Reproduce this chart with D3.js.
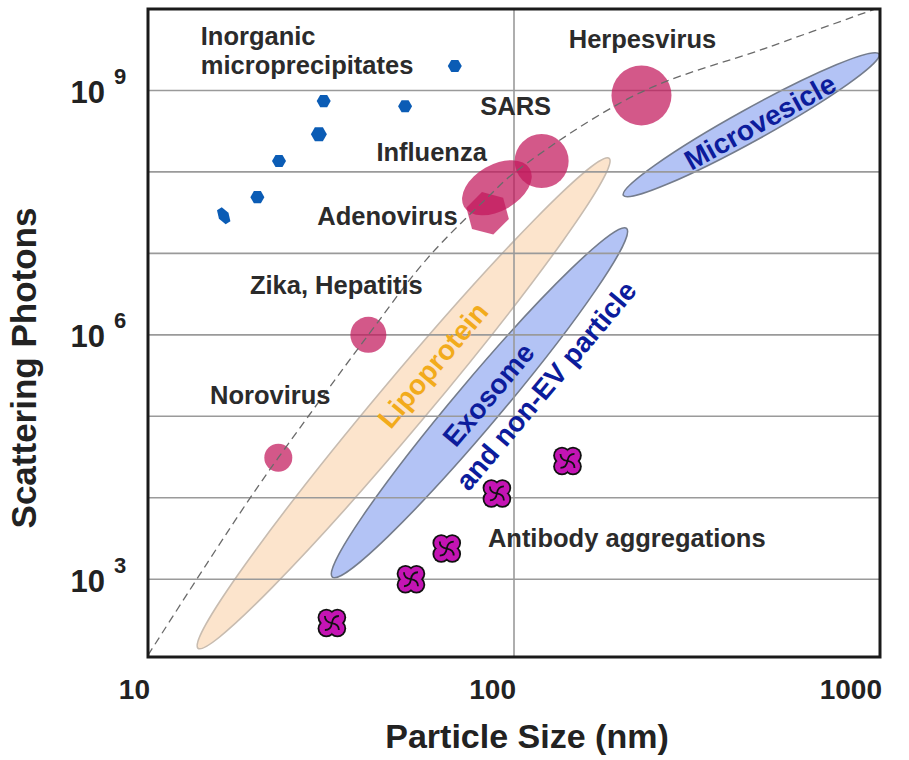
<!DOCTYPE html>
<html>
<head>
<meta charset="UTF-8">
<script src="https://d3js.org/d3.v7.min.js"></script>
<style>
    body { margin: 0; background: #fff; }
    svg text { font-family: "Liberation Sans", Arial, Helvetica, sans-serif; font-weight: bold; }
    .grid line { stroke: #9a9a9a; stroke-width: 1.6; }
    .lbl { font-size: 25.5px; fill: #2b2b2b; }
    .tick-x { font-size: 28px; fill: #222; }
    .tick-y { font-size: 31px; fill: #222; }
    .tick-sup { font-size: 22px; fill: #222; }
    .axis-title { font-size: 34px; fill: #222; }
</style>
</head>
<body>
<svg id="chart" width="909" height="760"></svg>
<script>
// ---- values ----
const xTicks = [10, 100, 1000];
const yTickExp = [3, 6, 9];
const gridExp = [3, 4, 5, 6, 7, 8, 9];
const xGrid = [100];

// dashed reference curve
const curveSize    = [10, 14.5, 19, 22.7, 40, 58, 84, 102, 219, 496, 1000];
const curvePhotons = [117, 1570, 9900, 3.1e4, 1.0e6, 8.7e6, 4.7e7, 1.04e8, 9.2e8, 3.4e9, 1.05e10];

// inorganic microprecipitates
const inorgSize    = [16.1, 19.9, 22.8, 29.3, 30.2, 50.4, 68.9];
const inorgPhotons = [2.9e7, 4.9e7, 1.36e8, 2.9e8, 7.4e8, 6.4e8, 2.0e9];

// viruses
const virusNames   = ["Norovirus", "Zika, Hepatitis", "Adenovirus", "Influenza", "SARS", "Herpesvirus"];
const virusSize    = [22.7, 40, 84.7, 89.8, 119, 223];
const virusPhotons = [3.1e4, 1.0e6, 3.1e7, 6.4e7, 1.36e8, 8.7e8];

// antibody aggregations
const abSize    = [31.8, 52.3, 65.5, 89.8, 140];
const abPhotons = [290, 1000, 2380, 1.13e4, 2.83e4];

// particle populations (low end -> high end)
const popNames       = ["Lipoprotein", "Exosome", "Microvesicle"];
const popSizeLow     = [13.7, 31.9, 199];
const popPhotonsLow  = [142, 1060, 5.15e7];
const popSizeHigh    = [182, 203, 995];
const popPhotonsHigh = [1.47e8, 2.03e7, 2.8e9];

// ---- layout ----
let margin = {top: 9, left: 148},
    width = 732,
    height = 648;

let svg = d3.select("#chart");
let chart = svg.append("g")
    .attr("transform", "translate(" + margin.left + "," + margin.top + ")");

let xScale = d3.scaleLog().domain([10, 1000]).range([0, width]);
let yScale = d3.scaleLog().domain([111, 1e10]).range([height, 0]);

chart.append("clipPath").attr("id", "plotclip")
    .append("rect").attr("width", width).attr("height", height);

// population ellipses
const popStyle = {
    "Lipoprotein":  {ry: 25, fill: "#fce4cc", stroke: "#c8bcb0", text: "#f2ab1c"},
    "Exosome":      {ry: 23, fill: "#b3c3f5", stroke: "#747c8c", text: "#0c1c9c"},
    "Microvesicle": {ry: 16, fill: "#b3c3f5", stroke: "#747c8c", text: "#0c1c9c"}
};
const popLabel = {
    "Lipoprotein":  [["Lipoprotein", 48, -2]],
    "Exosome":      [["Exosome", 12, 2], ["and non-EV particle", 56, 40]],
    "Microvesicle": [["Microvesicle", 9, 2]]
};

let pops = popNames.map((n, i) => {
    let x1 = xScale(popSizeLow[i]), y1 = yScale(popPhotonsLow[i]);
    let x2 = xScale(popSizeHigh[i]), y2 = yScale(popPhotonsHigh[i]);
    return {
        name: n,
        cx: (x1 + x2) / 2, cy: (y1 + y2) / 2,
        rx: Math.hypot(x2 - x1, y2 - y1) / 2,
        angle: Math.atan2(y2 - y1, x2 - x1) * 180 / Math.PI
    };
});

let popG = chart.append("g").attr("clip-path", "url(#plotclip)");
popG.selectAll("ellipse")
    .data(pops)
    .join("ellipse")
    .attr("cx", d => d.cx).attr("cy", d => d.cy)
    .attr("rx", d => d.rx).attr("ry", d => popStyle[d.name].ry)
    .attr("transform", d => "rotate(" + d.angle + "," + d.cx + "," + d.cy + ")")
    .attr("fill", d => popStyle[d.name].fill)
    .attr("stroke", d => popStyle[d.name].stroke)
    .attr("stroke-width", 1.6);

// grid
let grid = chart.append("g").attr("class", "grid");
grid.selectAll(".gy")
    .data(gridExp)
    .join("line").attr("class", "gy")
    .attr("x1", 0).attr("x2", width)
    .attr("y1", d => yScale(Math.pow(10, d))).attr("y2", d => yScale(Math.pow(10, d)));
grid.selectAll(".gx")
    .data(xGrid)
    .join("line").attr("class", "gx")
    .attr("y1", 0).attr("y2", height)
    .attr("x1", d => xScale(d)).attr("x2", d => xScale(d));

// population labels
pops.forEach(p => {
    let g = chart.append("g")
        .attr("transform", "translate(" + p.cx + "," + p.cy + ") rotate(" + p.angle + ")");
    popLabel[p.name].forEach(l => {
        g.append("text")
            .attr("x", l[1]).attr("y", l[2])
            .attr("text-anchor", "middle")
            .attr("dominant-baseline", "central")
            .style("font-size", "28px")
            .attr("fill", popStyle[p.name].text)
            .text(l[0]);
    });
});

// viruses
const virusShape = {
    "Norovirus":       {type: "circle", r: 14},
    "Zika, Hepatitis": {type: "circle", r: 18},
    "Adenovirus":      {type: "hex", r: 22, rot: 15},
    "Influenza":       {type: "ellipse", rx: 38, ry: 23, rot: -30},
    "SARS":            {type: "circle", r: 27},
    "Herpesvirus":     {type: "circle", r: 30}
};
const virusLabel = {
    "Norovirus":       {anchor: "middle", dx: -8,  dy: -54},
    "Zika, Hepatitis": {anchor: "middle", dx: -32, dy: -41},
    "Adenovirus":      {anchor: "end",    dx: -30, dy: 12},
    "Influenza":       {anchor: "end",    dx: -10, dy: -27},
    "SARS":            {anchor: "middle", dx: -26, dy: -46},
    "Herpesvirus":     {anchor: "middle", dx: 1,   dy: -47}
};

function hexPath(r, rot) {
    let pts = d3.range(6).map(k => {
        let a = (k * 60 + (rot || 0)) * Math.PI / 180;
        return [r * Math.cos(a), r * Math.sin(a)];
    });
    return "M" + pts.join("L") + "Z";
}

let virusG = chart.append("g");
virusNames.forEach((n, i) => {
    let s = virusShape[n];
    let g = virusG.append("g")
        .attr("transform", "translate(" + xScale(virusSize[i]) + "," + yScale(virusPhotons[i]) + ")")
        .attr("fill", "#c2185b")
        .attr("fill-opacity", 0.72);
    if (s.type == "circle") {
        g.append("circle").attr("r", s.r);
    } else if (s.type == "hex") {
        g.append("path").attr("d", hexPath(s.r, s.rot));
    } else {
        g.append("ellipse").attr("rx", s.rx).attr("ry", s.ry)
            .attr("transform", "rotate(" + s.rot + ")");
    }
});

// dashed curve
let line = d3.line()
    .x((d, i) => xScale(curveSize[i]))
    .y((d, i) => yScale(curvePhotons[i]))
    .curve(d3.curveCatmullRom);
chart.append("path")
    .attr("clip-path", "url(#plotclip)")
    .attr("d", line(curveSize))
    .attr("fill", "none")
    .attr("stroke", "#6a6a6a")
    .attr("stroke-width", 1.3)
    .attr("stroke-dasharray", "8,5");

virusNames.forEach((n, i) => {
    let l = virusLabel[n];
    chart.append("text")
        .attr("class", "lbl")
        .attr("x", xScale(virusSize[i]) + l.dx)
        .attr("y", yScale(virusPhotons[i]) + l.dy)
        .attr("text-anchor", l.anchor)
        .text(n);
});

// inorganic microprecipitates
chart.append("g").selectAll("path")
    .data(inorgSize)
    .join("path")
    .attr("d", (d, i) => hexPath(i == 3 ? 8 : 7, 0))
    .attr("transform", (d, i) => "translate(" + xScale(d) + "," + yScale(inorgPhotons[i]) + ")" +
        (i == 0 ? " rotate(-32) scale(0.8,1.35)" : ""))
    .attr("fill", "#0b5cb5");

let last = inorgSize.length - 1;
let inorgX = xScale(inorgSize[last]), inorgY = yScale(inorgPhotons[last]);
chart.append("text").attr("class", "lbl")
    .attr("x", inorgX - 254).attr("y", inorgY - 21)
    .text("Inorganic");
chart.append("text").attr("class", "lbl")
    .attr("x", inorgX - 254).attr("y", inorgY + 8)
    .text("microprecipitates");

// antibody aggregations
const lobes = [[-5.5, -5.5], [5.5, -5.5], [5.5, 5.5], [-5.5, 5.5]];
let abG = chart.append("g").selectAll("g")
    .data(abSize)
    .join("g")
    .attr("transform", (d, i) => "translate(" + xScale(d) + "," + yScale(abPhotons[i]) + ")");
abG.selectAll(".ol").data(lobes).join("circle").attr("class", "ol")
    .attr("cx", d => d[0]).attr("cy", d => d[1]).attr("r", 8.8).attr("fill", "#111");
abG.selectAll(".fl").data(lobes).join("circle").attr("class", "fl")
    .attr("cx", d => d[0]).attr("cy", d => d[1]).attr("r", 7).attr("fill", "#c414b4");
abG.selectAll(".sw").data(d3.range(4)).join("path").attr("class", "sw")
    .attr("d", "M0,0 Q1,-7 7,-7")
    .attr("transform", d => "rotate(" + (d * 90) + ")")
    .attr("fill", "none").attr("stroke", "#111").attr("stroke-width", 1.8);

let abX = xScale(abSize[3]), abY = yScale(abPhotons[3]);
chart.append("text").attr("class", "lbl")
    .attr("x", abX - 9).attr("y", abY + 54)
    .text("Antibody aggregations");

// frame
chart.append("rect")
    .attr("width", width).attr("height", height)
    .attr("fill", "none").attr("stroke", "#1a1a1a").attr("stroke-width", 3);

// axes labels
chart.selectAll(".tick-x")
    .data(xTicks)
    .join("text").attr("class", "tick-x")
    .attr("x", d => xScale(d) + 2)
    .attr("y", height + 42)
    .attr("text-anchor", "end")
    .text(d => d);

let yt = chart.selectAll(".ytick")
    .data(yTickExp)
    .join("g").attr("class", "ytick")
    .attr("transform", d => "translate(0," + yScale(Math.pow(10, d)) + ")");
yt.append("text").attr("class", "tick-y")
    .attr("x", -43).attr("y", 12.5)
    .attr("text-anchor", "end")
    .text("10");
yt.append("text").attr("class", "tick-sup")
    .attr("x", -34).attr("y", -6.5)
    .text(d => d);

chart.append("text").attr("class", "axis-title")
    .attr("x", width / 2 + 13).attr("y", height + 91)
    .attr("text-anchor", "middle")
    .text("Particle Size (nm)");

chart.append("text").attr("class", "axis-title")
    .style("font-size", "35px")
    .attr("transform", "translate(" + (-112) + "," + (height / 2 + 35) + ") rotate(-90)")
    .attr("text-anchor", "middle")
    .text("Scattering Photons");
</script>
</body>
</html>
